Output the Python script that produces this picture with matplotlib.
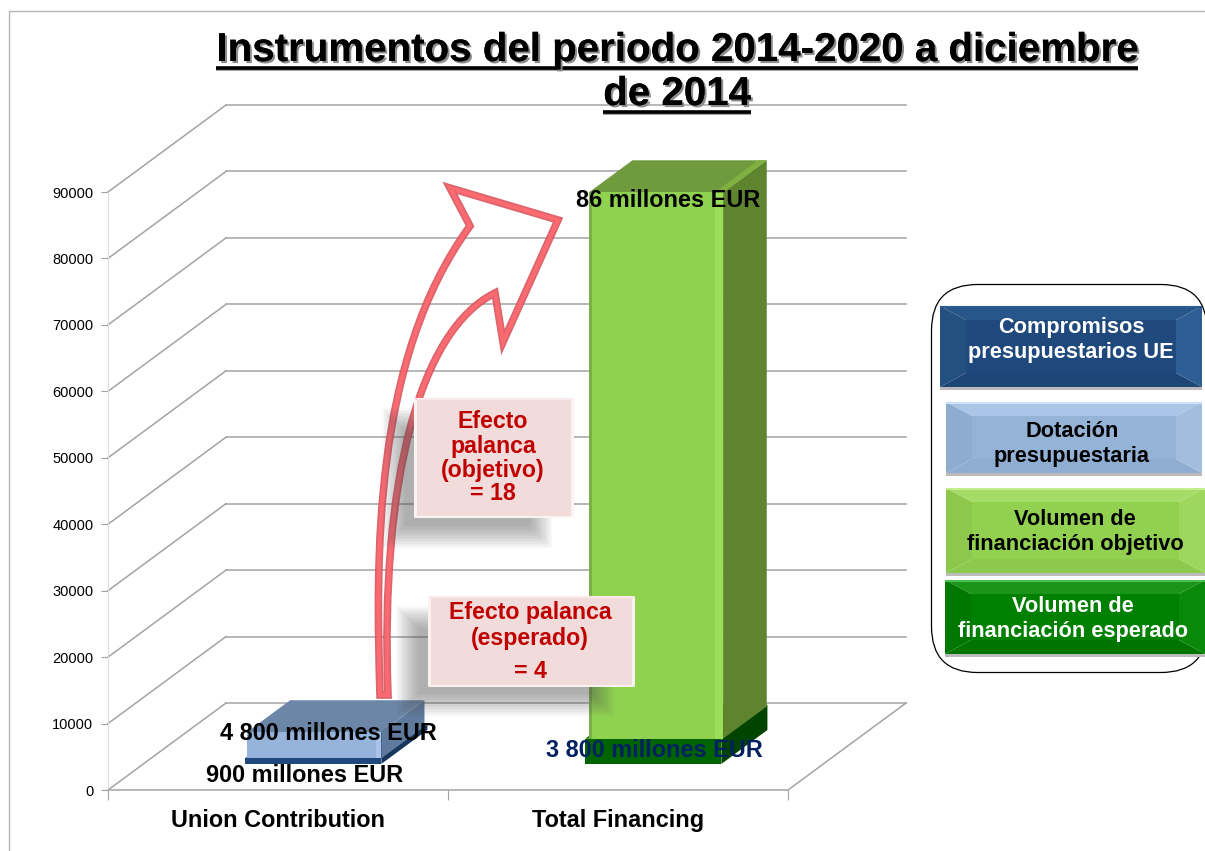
import matplotlib
matplotlib.use('Agg')
import matplotlib.pyplot as plt
import matplotlib.patheffects as pe
from matplotlib.patches import Polygon, Rectangle, FancyBboxPatch, PathPatch
from matplotlib.path import Path

plt.rcParams['font.family'] = ['Liberation Sans', 'DejaVu Sans']

# datos
categories = ['Union Contribution', 'Total Financing']
compromisos = [900, 0]
dotacion = [4800, 0]
objetivo = [0, 86000]
esperado = [0, 3800]
y_ticks = [0, 10000, 20000, 30000, 40000, 50000, 60000, 70000, 80000, 90000]
title_lines = ['Instrumentos del periodo 2014-2020 a diciembre', 'de 2014']
legend_labels = ['Compromisos\npresupuestarios UE', 'Dotación\npresupuestaria',
                 'Volumen de\nfinanciación objetivo', 'Volumen de\nfinanciación esperado']

W, H = 1205, 851
# profundidad del falso 3D, en unidades de datos
DX = 118 / 340
DY = 87 / 598 * 90000

fig = plt.figure(figsize=(W / 100, H / 100), dpi=100, facecolor='white')
ax = fig.add_axes([108 / W, (H - 790) / H, 680 / W, 598 / H])
ax.set_xlim(0, 2)
ax.set_ylim(0, 90000)
ax.patch.set_visible(False)


def pt(x, y, d=0.0):
    return (x + d * DX, y + d * DY)


def face(points, color, z=3):
    ax.add_patch(Polygon(points, closed=True, facecolor=color, edgecolor='none',
                         clip_on=False, zorder=z))


def bar3d(x0, x1, y0, y1, d0, d1, front, top, side, z=3):
    face([pt(x1, y0, d0), pt(x1, y0, d1), pt(x1, y1, d1), pt(x1, y1, d0)], side, z)
    face([pt(x0, y1, d0), pt(x0, y1, d1), pt(x1, y1, d1), pt(x1, y1, d0)], top, z)
    face([pt(x0, y0, d0), pt(x1, y0, d0), pt(x1, y1, d0), pt(x0, y1, d0)], front, z)


# rejilla: pared del fondo, pared izquierda y suelo
grid = '#A3A3A3'
for v in y_ticks:
    ax.plot([0, DX], [v, v + DY], color=grid, lw=1.1, clip_on=False, zorder=1)
    ax.plot([DX, 2 + DX], [v + DY, v + DY], color=grid, lw=1.1, clip_on=False, zorder=1)
ax.plot([2, 2 + DX], [0, DY], color=grid, lw=1.1, clip_on=False, zorder=1)

# barras
bar3d(0.30, 0.70, 0, compromisos[0], 0.30, 0.69, '#1F497D', '#1F497D', '#17375E', z=3)
bar3d(0.305, 0.70, compromisos[0], dotacion[0], 0.30, 0.665, '#95B3DB', '#6C86A8', '#5F7A9C', z=4)
face([pt(0.685, compromisos[0], 0.3), pt(0.70, compromisos[0], 0.3),
      pt(0.70, dotacion[0], 0.3), pt(0.685, dotacion[0], 0.3)], '#A9C4E6', 4)
bar3d(1.30, 1.70, 0, esperado[1], 0.30, 0.69, '#006400', '#006400', '#004400', z=3)
bar3d(1.31, 1.705, esperado[1], objetivo[1], 0.30, 0.67, '#8FD24F', '#6F9B3E', '#5F8430', z=4)
face([pt(1.68, esperado[1], 0.3), pt(1.705, esperado[1], 0.3),
      pt(1.705, objetivo[1], 0.3), pt(1.68, objetivo[1], 0.3)], '#9BDF58', 4)
face([pt(1.31, esperado[1], 0.3), pt(1.318, esperado[1], 0.3),
      pt(1.318, objetivo[1], 0.3), pt(1.31, objetivo[1], 0.3)], '#7BAF48', 4)
face([pt(1.68, objetivo[1], 0.3), pt(1.705, objetivo[1], 0.3),
      pt(1.705, objetivo[1], 0.67), pt(1.68, objetivo[1], 0.67)], '#7FB040', 4)

# ejes
for s in ['top', 'right']:
    ax.spines[s].set_visible(False)
ax.spines['left'].set_color('#DDDDDD')
ax.spines['bottom'].set_color(grid)
ax.spines['bottom'].set_linewidth(1.1)
ax.set_yticks(y_ticks)
ax.tick_params(axis='y', length=5, color=grid, labelsize=10.5, pad=5.5)
ax.set_xticks([0, 1, 2])
ax.set_xticklabels([])
ax.set_xticks([0.5, 1.5], categories, minor=True, fontsize=16.9, fontweight='bold')
ax.tick_params(axis='x', which='major', length=7, color=grid)
ax.tick_params(axis='x', which='minor', length=0, pad=14)

# etiquetas de las barras
ax.text(0.648, 8500, '4 800 millones EUR', ha='center', va='center', fontsize=16.9,
        fontweight='bold', color='black', zorder=6)
ax.text(0.578, 2200, '900 millones EUR', ha='center', va='center', fontsize=16.9,
        fontweight='bold', color='black', zorder=6)
ax.text(1.608, 6000, '3 800 millones EUR', ha='center', va='center', fontsize=16.9,
        fontweight='bold', color='#002060', zorder=6)
ax.text(1.647, 88700, '86 millones EUR', ha='center', va='center', fontsize=16.9,
        fontweight='bold', color='black', zorder=6)

# capa superior en píxeles para título, flecha, cuadros y leyenda
ov = fig.add_axes([0, 0, 1, 1], zorder=5)
ov.set_xlim(0, W)
ov.set_ylim(H, 0)
ov.axis('off')

# marco
ov.plot([8.5, 8.5, W], [H, 10.5, 10.5], color='#B5B5B5', lw=1)

# titulo subrayado
shadow = [pe.withSimplePatchShadow(offset=(1.5, -1.5), shadow_rgbFace='#8C8C8C', alpha=1.0), pe.Normal()]
renderer = fig.canvas.get_renderer()
for line, yb in zip(title_lines, [61, 105]):
    t = ov.text(677, yb, line, ha='center', va='baseline', fontsize=29, fontweight='bold',
                color='black', path_effects=shadow)
    bb = t.get_window_extent(renderer)
    ov.plot([bb.x0, bb.x1], [yb + 7.5, yb + 7.5], color='#8C8C8C', lw=2.6, solid_capstyle='butt')
    ov.plot([bb.x0, bb.x1], [yb + 6.5, yb + 6.5], color='black', lw=2.6, solid_capstyle='butt')

# flecha curva
verts = [(380, 695), (376, 560), (372, 360), (470, 226), (450, 188), (558, 220), (503, 342),
         (495, 293), (420, 330), (380, 480), (388, 695), (380, 695)]
codes = [Path.MOVETO, Path.CURVE4, Path.CURVE4, Path.CURVE4, Path.LINETO, Path.LINETO, Path.LINETO,
         Path.LINETO, Path.CURVE4, Path.CURVE4, Path.CURVE4, Path.CLOSEPOLY]
arrow = Path(verts, codes)
ov.add_patch(PathPatch(arrow, facecolor='none', edgecolor='#D9535C', lw=5.5, alpha=0.9,
                       joinstyle='miter', zorder=2))
ov.add_patch(PathPatch(arrow, facecolor='none', edgecolor='#FF6B72', lw=3, alpha=0.9,
                       joinstyle='miter', zorder=2))


def soft_shadow(x0, y0, x1, y1, n=16, step=1.5):
    for i in range(n):
        k = i * step
        ov.add_patch(Rectangle((x0 + k, y0 + k), x1 - x0 - 2 * k, y1 - y0 - 2 * k,
                               facecolor='#555555', edgecolor='none', alpha=0.034, zorder=3))


def bevel_box(x0, y0, x1, y1, body, c_top, c_left, c_right, c_bottom, bx, by, z=4):
    ov.add_patch(Polygon([(x0, y0), (x1, y0), (x1 - bx, y0 + by), (x0 + bx, y0 + by)], facecolor=c_top, edgecolor='none', zorder=z))
    ov.add_patch(Polygon([(x0, y1), (x1, y1), (x1 - bx, y1 - by), (x0 + bx, y1 - by)], facecolor=c_bottom, edgecolor='none', zorder=z))
    ov.add_patch(Polygon([(x0, y0), (x0 + bx, y0 + by), (x0 + bx, y1 - by), (x0, y1)], facecolor=c_left, edgecolor='none', zorder=z))
    ov.add_patch(Polygon([(x1, y0), (x1 - bx, y0 + by), (x1 - bx, y1 - by), (x1, y1)], facecolor=c_right, edgecolor='none', zorder=z))
    ov.add_patch(Rectangle((x0 + bx, y0 + by), x1 - x0 - 2 * bx, y1 - y0 - 2 * by, facecolor=body, edgecolor='none', zorder=z))


# cuadros de efecto palanca
soft_shadow(382, 408, 552, 548)
soft_shadow(396, 606, 614, 716)
pink = '#F2DCDB'
bevel_box(414, 398, 574, 518, pink, '#F8E8E7', '#FBF3F2', '#FBF3F2', '#FBF3F2', 3, 2)
bevel_box(428, 596, 635, 687, pink, '#F8E8E7', '#FBF3F2', '#FBF3F2', '#FBF3F2', 3, 2)
red = '#C00000'
for s, y in zip(['Efecto', 'palanca', '(objetivo)', '= 18'], [421, 446, 471, 494]):
    ov.text(493, y, s, ha='center', va='center', fontsize=16.7, fontweight='bold', color=red, zorder=5)
for s, y in zip(['Efecto palanca', '(esperado)', '= 4'], [612, 638, 672]):
    ov.text(530, y, s, ha='center', va='center', fontsize=16.7, fontweight='bold', color=red, zorder=5)

# leyenda
ov.add_patch(FancyBboxPatch((931.5 + 46, 284.5 + 46), 275.5 - 92, 388 - 92,
                            boxstyle='round,pad=46,rounding_size=46', facecolor='white',
                            edgecolor='black', lw=0.9, clip_on=True, zorder=1))

boxes = [(940, 306, 1202, 387), (946, 402, 1202, 473), (946, 488, 1205, 573), (945, 580, 1205, 654)]
styles = [('#1F497D', '#28558A', '#24507F', '#2F5E94', '#1D4575'),
          ('#95B3D7', '#A9C6E8', '#8EABD0', '#A2BEDF', '#8FADD1'),
          ('#92D050', '#A5DC68', '#8CC84C', '#9ED75E', '#8CC94C'),
          ('#008000', '#1A951A', '#007800', '#0A880A', '#007400')]
top_lines = ['#2A5A90', '#CBE4FC', '#C2EE8E', '#4CC04C']
text_colors = ['white', 'black', 'black', 'white']
text_y = [340, 444, 532, 619]
centers = [1071, 1072, 1075, 1073]
for i in range(4):
    x0, y0, x1, y1 = boxes[i]
    ov.add_patch(Rectangle((x0, y1), x1 - x0, 3, facecolor='#BBBBBB', edgecolor='none', zorder=3))
    bevel_box(x0, y0, x1, y1, *styles[i], 26, 14)
    ov.plot([x0, x1], [y0 + 1, y0 + 1], color=top_lines[i], lw=1.5, zorder=5, solid_capstyle='butt')
    ov.text(centers[i], text_y[i], legend_labels[i], ha='center', va='center',
            fontsize=15.7, fontweight='bold', color=text_colors[i], linespacing=1.3, zorder=6)

fig.savefig('out.png', dpi=100)
